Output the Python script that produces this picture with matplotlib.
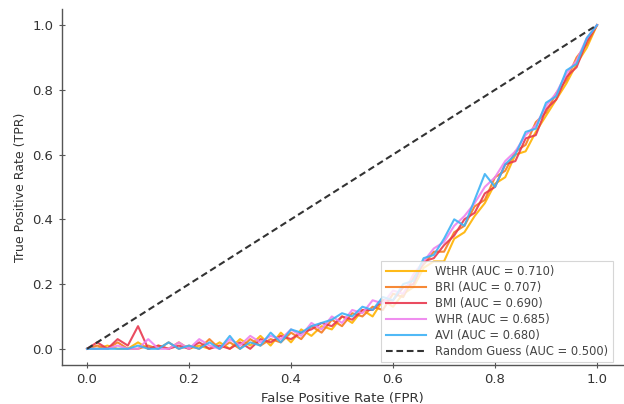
import matplotlib
matplotlib.use("Agg")
import matplotlib.pyplot as plt

fpr = [0.00, 0.02, 0.04, 0.06, 0.08, 0.10, 0.12, 0.14, 0.16, 0.18,
       0.20, 0.22, 0.24, 0.26, 0.28, 0.30, 0.32, 0.34, 0.36, 0.38,
       0.40, 0.42, 0.44, 0.46, 0.48, 0.50, 0.52, 0.54, 0.56, 0.58,
       0.60, 0.62, 0.64, 0.66, 0.68, 0.70, 0.72, 0.74, 0.76, 0.78,
       0.80, 0.82, 0.84, 0.86, 0.88, 0.90, 0.92, 0.94, 0.96, 0.98,
       1.00]

tpr_wthr = [0.00, 0.00, 0.01, 0.00, 0.00, 0.02, 0.00, 0.01, 0.00, 0.02,
            0.00, 0.01, 0.00, 0.02, 0.00, 0.03, 0.01, 0.04, 0.01, 0.05,
            0.02, 0.06, 0.04, 0.07, 0.06, 0.10, 0.08, 0.12, 0.10, 0.15,
            0.13, 0.17, 0.19, 0.25, 0.27, 0.27, 0.34, 0.36, 0.41, 0.45,
            0.51, 0.53, 0.60, 0.61, 0.67, 0.72, 0.77, 0.82, 0.88, 0.93,
            1.00]
tpr_bri = [0.00, 0.01, 0.00, 0.02, 0.00, 0.00, 0.01, 0.00, 0.02, 0.00,
           0.01, 0.00, 0.03, 0.00, 0.02, 0.00, 0.03, 0.01, 0.03, 0.02,
           0.05, 0.03, 0.07, 0.05, 0.09, 0.07, 0.11, 0.10, 0.13, 0.12,
           0.17, 0.16, 0.22, 0.26, 0.30, 0.30, 0.36, 0.38, 0.44, 0.46,
           0.53, 0.55, 0.61, 0.63, 0.70, 0.73, 0.79, 0.83, 0.90, 0.94,
           1.00]
tpr_bmi = [0.00, 0.02, 0.00, 0.03, 0.01, 0.07, 0.00, 0.01, 0.00, 0.01,
           0.00, 0.02, 0.00, 0.01, 0.00, 0.02, 0.00, 0.03, 0.02, 0.04,
           0.03, 0.05, 0.06, 0.08, 0.07, 0.10, 0.09, 0.12, 0.12, 0.15,
           0.15, 0.19, 0.20, 0.27, 0.28, 0.32, 0.35, 0.40, 0.42, 0.48,
           0.50, 0.57, 0.58, 0.65, 0.66, 0.74, 0.77, 0.84, 0.87, 0.95,
           1.00]
tpr_whr = [0.00, 0.00, 0.00, 0.01, 0.00, 0.00, 0.03, 0.00, 0.00, 0.02,
           0.00, 0.03, 0.01, 0.00, 0.03, 0.01, 0.04, 0.02, 0.04, 0.03,
           0.06, 0.04, 0.08, 0.06, 0.10, 0.08, 0.12, 0.11, 0.15, 0.14,
           0.18, 0.17, 0.23, 0.27, 0.31, 0.33, 0.38, 0.41, 0.45, 0.50,
           0.53, 0.58, 0.61, 0.66, 0.69, 0.75, 0.79, 0.85, 0.89, 0.96,
           1.00]
tpr_avi = [0.00, 0.00, 0.00, 0.00, 0.00, 0.01, 0.00, 0.00, 0.02, 0.00,
           0.01, 0.00, 0.02, 0.00, 0.04, 0.00, 0.02, 0.01, 0.05, 0.02,
           0.06, 0.05, 0.07, 0.08, 0.09, 0.11, 0.10, 0.13, 0.12, 0.16,
           0.15, 0.20, 0.21, 0.28, 0.29, 0.34, 0.40, 0.38, 0.46, 0.54,
           0.50, 0.57, 0.60, 0.67, 0.68, 0.76, 0.78, 0.86, 0.88, 0.96,
           1.00]

names = ["WtHR", "BRI", "BMI", "WHR", "AVI"]
aucs = [0.710, 0.707, 0.690, 0.685, 0.680]
curves = [tpr_wthr, tpr_bri, tpr_bmi, tpr_whr, tpr_avi]
colors = ["#FFB300", "#F57C20", "#E8384F", "#EE82EE", "#3DB2F5"]

fig = plt.figure(figsize=(6.24, 4.04), dpi=100)
ax = fig.add_axes([0.0986, 0.0965, 0.899, 0.8815])

for name, auc, tpr, c in zip(names, aucs, curves, colors):
    ax.plot(fpr, tpr, color=c, lw=1.5, alpha=0.9, label=f"{name} (AUC = {auc:.3f})")
ax.plot([0, 1], [0, 1], linestyle=(0, (3.2, 1.8)), color="#333333", lw=1.5,
        label="Random Guess (AUC = 0.500)")

for s in ["top", "right"]:
    ax.spines[s].set_visible(False)
for s in ["left", "bottom"]:
    ax.spines[s].set_color("#555555")
    ax.spines[s].set_linewidth(1.0)
ax.tick_params(direction="inout", length=5, width=0.8, colors="#555555",
               labelcolor="#333333", labelsize=9.5)
ax.set_xticks([0.0, 0.2, 0.4, 0.6, 0.8, 1.0])
ax.set_yticks([0.0, 0.2, 0.4, 0.6, 0.8, 1.0])
ax.set_xlabel("False Positive Rate (FPR)", fontsize=9.5, color="#333333")
ax.set_ylabel("True Positive Rate (TPR)", fontsize=9, color="#333333")

leg = ax.legend(loc="lower right", bbox_to_anchor=(0.983, 0.008),
                fontsize=8.3, frameon=True, fancybox=False,
                borderaxespad=0.0, handlelength=3.5, labelspacing=0.25,
                labelcolor="#444444")
leg.get_frame().set_edgecolor("#cccccc")
leg.get_frame().set_linewidth(0.8)

fig.savefig("out.png", dpi=100)
